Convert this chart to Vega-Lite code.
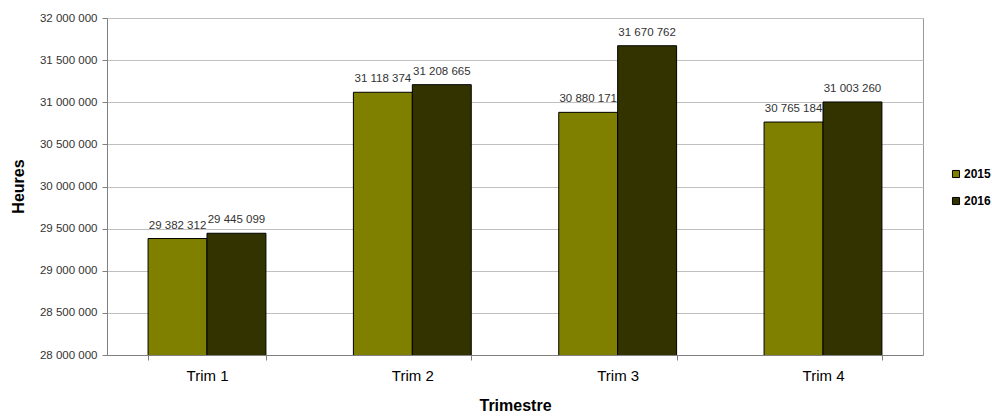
{
  "$schema": "https://vega.github.io/schema/vega-lite/v6.json",
  "width": 816,
  "height": 337,
  "autosize": {"type": "none"},
  "padding": {"left": 107, "top": 18, "right": 69, "bottom": 61},
  "config": {
    "font": "Liberation Sans",
    "locale": {"number": {"decimal": ",", "thousands": " ", "grouping": [3], "currency": ["", " €"]}},
    "view": {"stroke": "#999999", "strokeWidth": 1}
  },
  "data": {
    "values": [
      {"trim": "Trim 1", "year": "2015", "heures": 29382312},
      {"trim": "Trim 1", "year": "2016", "heures": 29445099},
      {"trim": "Trim 2", "year": "2015", "heures": 31118374},
      {"trim": "Trim 2", "year": "2016", "heures": 31208665},
      {"trim": "Trim 3", "year": "2015", "heures": 30880171},
      {"trim": "Trim 3", "year": "2016", "heures": 31670762},
      {"trim": "Trim 4", "year": "2015", "heures": 30765184},
      {"trim": "Trim 4", "year": "2016", "heures": 31003260}
    ]
  },
  "encoding": {
    "x": {
      "field": "trim", "type": "nominal",
      "scale": {"paddingInner": 0.426},
      "axis": {
        "title": "Trimestre", "titleFontSize": 16, "titleFontWeight": "bold", "titleColor": "#000000",
        "titlePadding": 14,
        "labelAngle": 0, "labelFontSize": 15, "labelColor": "#000000", "labelPadding": 8,
        "domainColor": "#808080", "tickColor": "#808080", "tickSize": 5, "tickBand": "extent",
        "grid": false
      }
    },
    "xOffset": {"field": "year", "type": "nominal", "scale": {"paddingInner": 0}},
    "y": {
      "field": "heures", "type": "quantitative",
      "scale": {"domain": [28000000, 32000000], "nice": false, "zero": false},
      "axis": {
        "title": "Heures", "titleFontSize": 16, "titleFontWeight": "bold", "titleColor": "#000000",
        "titleX": -89, "titleY": 168, "titleAngle": -90, "titleBaseline": "middle", "titleAlign": "center",
        "values": [28000000, 28500000, 29000000, 29500000, 30000000, 30500000, 31000000, 31500000, 32000000],
        "format": ",d", "labelFontSize": 11.5, "labelColor": "#333333", "labelPadding": 5,
        "domainColor": "#808080", "tickColor": "#808080", "tickSize": 5,
        "gridColor": "#c0c0c0", "gridWidth": 1
      }
    }
  },
  "layer": [
    {
      "mark": {"type": "bar", "stroke": "#000000", "strokeWidth": 1, "clip": true},
      "encoding": {
        "color": {
          "field": "year", "type": "nominal",
          "scale": {"domain": ["2015", "2016"], "range": ["#808000", "#333300"]},
          "legend": {
            "title": null, "orient": "none", "legendX": 843, "legendY": 150,
            "symbolType": "square", "symbolSize": 50, "symbolStrokeColor": "#000000", "symbolStrokeWidth": 1,
            "labelFontSize": 12, "labelFontWeight": "bold", "labelColor": "#000000",
            "rowPadding": 15, "labelOffset": 2
          }
        }
      }
    },
    {
      "mark": {"type": "text", "baseline": "bottom", "dy": -8, "fontSize": 11.5, "color": "#333333"},
      "encoding": {
        "text": {"field": "heures", "type": "quantitative", "format": ",d"}
      }
    }
  ]
}
